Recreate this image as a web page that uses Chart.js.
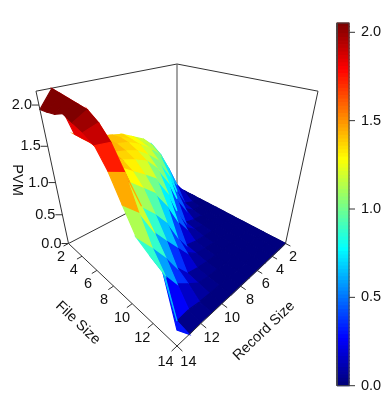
<!DOCTYPE html>
<html lang="en">
<head>
    <meta charset="UTF-8">
    <title>PVM surface</title>
    <script src="https://cdn.jsdelivr.net/npm/chart.js"></script>
    <style>
        html, body { margin: 0; padding: 0; background: #fff; }
        canvas { display: block; }
    </style>
</head>
<body>
    <canvas id="myChart" width="384" height="410"></canvas>
    <script>
        // Data
        const fileSizes = [2, 3, 4, 5, 6, 7, 8, 9, 10, 11, 12, 13, 14];
        const recordSizes = [2, 3, 4, 5, 6, 7, 8, 9, 10, 11, 12, 13, 14];
        // one row per file size, one column per record size
        const pvm = [
            [0, 0.28, 0.55, 1.00, 1.16, 1.25, 1.34, 1.38, 1.42, 1.45, 1.55, 2.15, 1.95],
            [0, 0.10, 0.48, 0.90, 1.12, 1.22, 1.32, 1.40, 1.42, 1.45, 1.55, 2.13, 1.96],
            [0, 0.12, 0.35, 0.72, 1.02, 1.18, 1.30, 1.38, 1.42, 1.45, 1.55, 2.11, 1.98],
            [0, 0.02, 0.08, 0.38, 0.78, 1.05, 1.20, 1.32, 1.38, 1.42, 1.52, 2.09, 2.03],
            [0, 0.01, 0.03, 0.15, 0.42, 0.80, 1.06, 1.24, 1.32, 1.38, 1.48, 2.07, 1.98],
            [0, 0, 0.01, 0.03, 0.08, 0.38, 0.78, 1.05, 1.18, 1.30, 1.42, 1.98, 1.93],
            [0, 0, 0.01, 0.02, 0.05, 0.18, 0.42, 0.75, 1.00, 1.15, 1.30, 1.83, 1.85],
            [0, 0, 0, 0.01, 0.02, 0.04, 0.08, 0.35, 0.68, 0.90, 1.08, 1.58, 1.65],
            [0, 0, 0, 0, 0.01, 0.02, 0.05, 0.18, 0.40, 0.62, 0.85, 1.19, 1.36],
            [0, 0, 0, 0, 0, 0.01, 0.02, 0.04, 0.08, 0.30, 0.60, 0.85, 1.08],
            [0, 0, 0, 0, 0, 0, 0.01, 0.02, 0.05, 0.18, 0.32, 0.60, 0.98],
            [0, 0, 0, 0, 0, 0, 0, 0.01, 0.02, 0.03, 0.06, 0.04, 0.89],
            [0, 0, 0, 0, 0, 0, 0, 0, 0.01, 0.01, 0.02, 0, 0.25]
        ];
        const axisTicks = [2, 4, 6, 8, 10, 12, 14];
        const pvmTicks = [0, 0.5, 1, 1.5, 2];
        const jet = ["#00007F", "#0000FF", "#007FFF", "#00FFFF", "#7FFF7F", "#FFFF00", "#FF7F00", "#FF0000", "#7F0000"];

        const FONT = '14.5px "Liberation Sans", Arial, sans-serif';
        const zTop = 2.154;

        // Perspective view of the box, fitted to its corners in the picture
        function project(file, rec, z) {
            const u = (file - 2) / 12, v = (rec - 2) / 12, w = z / zTop;
            const h = 1 - 0.2244 * (u + v) - 0.1788 * w;
            return {
                x: 177 + 84.15 * (u - v) / h,
                y: (187 + 1.86 * (u + v) - 134.44 * w) / h,
                h: h
            };
        }

        function hexToRgb(hex) {
            return [1, 3, 5].map(function (i) { return parseInt(hex.substr(i, 2), 16); });
        }

        // 100 step jet ramp
        const ramp = [];
        for (let i = 0; i < 100; i++) {
            const t = i / 99 * (jet.length - 1);
            const a = Math.min(Math.floor(t), jet.length - 2);
            const c1 = hexToRgb(jet[a]), c2 = hexToRgb(jet[a + 1]);
            const c = c1.map(function (n, k) { return Math.round(n + (c2[k] - n) * (t - a)); });
            ramp.push("rgb(" + c.join(",") + ")");
        }

        // Facets, coloured by the mean of their corners
        const facets = [];
        let colorMax = 0;
        for (let i = 0; i < fileSizes.length - 1; i++) {
            for (let j = 0; j < recordSizes.length - 1; j++) {
                const zs = [pvm[i][j], pvm[i + 1][j], pvm[i + 1][j + 1], pvm[i][j + 1]];
                const mean = (zs[0] + zs[1] + zs[2] + zs[3]) / 4;
                colorMax = Math.max(colorMax, mean);
                const pts = [
                    project(fileSizes[i], recordSizes[j], zs[0]),
                    project(fileSizes[i + 1], recordSizes[j], zs[1]),
                    project(fileSizes[i + 1], recordSizes[j + 1], zs[2]),
                    project(fileSizes[i], recordSizes[j + 1], zs[3])
                ];
                const depth = (pts[0].h + pts[1].h + pts[2].h + pts[3].h) / 4;
                facets.push({ mean: mean, pts: pts, depth: depth });
            }
        }
        // Chart.js paints the first dataset last, so nearest goes first
        facets.sort(function (a, b) { return a.depth - b.depth; });

        function colorFor(value) {
            const idx = Math.min(99, Math.floor(value / colorMax * 100));
            return ramp[idx];
        }

        function polygon(pts, color) {
            return {
                data: pts.concat([pts[0]]).map(function (p) { return { x: p.x, y: p.y }; }),
                showLine: true, fill: 'shape', backgroundColor: color,
                borderColor: color, borderWidth: 1.2, pointRadius: 0, tension: 0
            };
        }
        function line(pts, width, color, yAxis) {
            return {
                data: pts.map(function (p) { return { x: p.x, y: p.y }; }),
                showLine: true, fill: false, borderColor: color, borderWidth: width,
                pointRadius: 0, tension: 0, yAxisID: yAxis || 'y'
            };
        }

        const frontLines = [], backLines = [];
        const ink = "#333";
        const c000 = project(2, 2, 0), c100 = project(14, 2, 0), c010 = project(2, 14, 0), c110 = project(14, 14, 0);
        const c001 = project(2, 2, zTop), c101 = project(14, 2, zTop), c011 = project(2, 14, zTop);
        backLines.push(line([c010, c000, c100], 1, ink));
        backLines.push(line([c000, c001], 1.2, "#666"));
        backLines.push(line([c011, c001, c101], 1, ink));
        frontLines.push(line([c010, c011], 1, ink));
        frontLines.push(line([c100, c101], 1, ink));
        frontLines.push(line([c010, c110, c100], 1, ink));

        // Tick marks on the box
        const labels = [];
        axisTicks.forEach(function (t) {
            const shift = 2.5 + (t - 2) / 12 * 3.5;
            const a = project(t, 14, 0), b = project(t, 14.42, 0);
            frontLines.push(line([a, b], 1, ink));
            labels.push({ text: String(t), x: b.x - shift, y: b.y + 10.5 });
            const c = project(14, t, 0), d = project(14.42, t, 0);
            frontLines.push(line([c, d], 1, ink));
            labels.push({ text: String(t), x: d.x + shift, y: d.y + 10.5 });
        });
        const zLabels = [];
        pvmTicks.forEach(function (t) {
            const a = project(2, 14, t);
            frontLines.push(line([a, { x: a.x - 7, y: a.y }], 1, ink));
            zLabels.push({ text: t.toFixed(1), x: a.x - 7, y: a.y });
        });

        // Colour key, on its own value scale
        const keyDatasets = [];
        const keyLeft = 337, keyRight = 349;
        for (let i = 0; i < 100; i++) {
            const ds = polygon([
                { x: keyLeft, y: colorMax * i / 100 }, { x: keyRight, y: colorMax * i / 100 },
                { x: keyRight, y: colorMax * (i + 1) / 100 }, { x: keyLeft, y: colorMax * (i + 1) / 100 }
            ], ramp[i]);
            ds.yAxisID = 'c';
            keyDatasets.push(ds);
        }
        const keyBorder = [
            { x: keyLeft, y: 0 }, { x: keyRight, y: 0 }, { x: keyRight, y: colorMax },
            { x: keyLeft, y: colorMax }, { x: keyLeft, y: 0 }
        ];
        const keyLines = [line(keyBorder, 1, "#444", 'c')];
        pvmTicks.forEach(function (t) {
            keyLines.push(line([{ x: keyRight, y: t }, { x: 355, y: t }], 1, ink, 'c'));
        });

        const datasets = [].concat(
            frontLines,
            facets.map(function (f) { return polygon(f.pts, colorFor(f.mean)); }),
            backLines,
            keyLines,
            keyDatasets
        );

        const textPlugin = {
            id: 'boxText',
            afterDraw: function (chart) {
                const ctx = chart.ctx, sx = chart.scales.x, sy = chart.scales.y, sc = chart.scales.c;
                ctx.save();
                ctx.fillStyle = "#111";
                ctx.font = FONT;
                ctx.textAlign = 'center';
                ctx.textBaseline = 'middle';
                labels.forEach(function (l) {
                    ctx.fillText(l.text, sx.getPixelForValue(l.x), sy.getPixelForValue(l.y));
                });
                ctx.textAlign = 'right';
                zLabels.forEach(function (l) {
                    ctx.fillText(l.text, sx.getPixelForValue(l.x), sy.getPixelForValue(l.y));
                });
                ctx.textAlign = 'left';
                pvmTicks.forEach(function (t) {
                    ctx.fillText(t.toFixed(1), sx.getPixelForValue(361), sc.getPixelForValue(t));
                });
                ctx.textAlign = 'center';
                [["PVM", 17, 180, Math.PI / 2],
                 ["File Size", 78, 323, 0.76],
                 ["Record Size", 264, 331, -0.76]].forEach(function (t) {
                    ctx.save();
                    ctx.translate(sx.getPixelForValue(t[1]), sy.getPixelForValue(t[2]));
                    ctx.rotate(t[3]);
                    ctx.fillText(t[0], 0, 0);
                    ctx.restore();
                });
                ctx.restore();
            }
        };

        new Chart(document.getElementById('myChart').getContext('2d'), {
            type: 'scatter',
            data: { datasets: datasets },
            plugins: [textPlugin],
            options: {
                responsive: false,
                animation: false,
                layout: { padding: 0 },
                plugins: { legend: { display: false }, tooltip: { enabled: false }, title: { display: false } },
                scales: {
                    x: { type: 'linear', min: 0, max: 384, display: false },
                    y: { type: 'linear', min: 0, max: 410, reverse: true, display: false },
                    // key: 176.7 px per unit, zero at pixel 385.7
                    c: { type: 'linear', min: (385.7 - 410) / 176.7, max: 385.7 / 176.7, display: false }
                }
            }
        });
    </script>
</body>
</html>
